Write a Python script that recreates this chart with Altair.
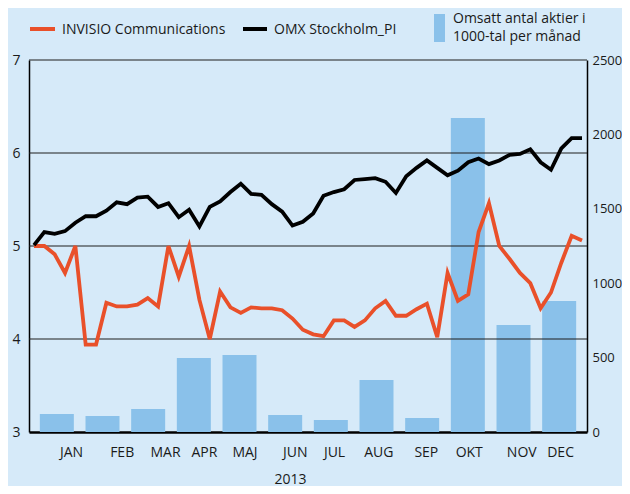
import altair as alt
import pandas as pd

# ---------------- data ----------------
months = ["JAN", "FEB", "MAR", "APR", "MAJ", "JUN", "JUL", "AUG", "SEP", "OKT", "NOV", "DEC"]
volume = [121, 108, 155, 497, 517, 114, 81, 350, 94, 2110, 719, 880]
month_label_pos = [0.81, 1.92, 2.87, 3.72, 4.61, 5.71, 6.57, 7.54, 8.58, 9.52, 10.67, 11.52]

invisio = [5.00, 5.00, 4.91, 4.71, 5.00, 3.94, 3.94, 4.39, 4.35, 4.35, 4.37, 4.44, 4.35, 5.00,
           4.67, 5.00, 4.42, 4.00, 4.51, 4.34, 4.28, 4.34, 4.33, 4.33, 4.31, 4.22, 4.10, 4.05,
           4.03, 4.20, 4.20, 4.13, 4.20, 4.33, 4.41, 4.25, 4.25, 4.32, 4.38, 4.02, 4.71, 4.41,
           4.48, 5.15, 5.46, 5.00, 4.86, 4.71, 4.60, 4.33, 4.50, 4.82, 5.11, 5.06]
omx = [5.01, 5.15, 5.13, 5.16, 5.25, 5.32, 5.32, 5.38, 5.47, 5.45, 5.52, 5.53, 5.42, 5.46,
       5.31, 5.39, 5.21, 5.42, 5.48, 5.58, 5.67, 5.56, 5.55, 5.45, 5.37, 5.22, 5.26, 5.35,
       5.54, 5.58, 5.61, 5.71, 5.72, 5.73, 5.69, 5.57, 5.75, 5.84, 5.92, 5.84, 5.76, 5.81,
       5.90, 5.94, 5.88, 5.92, 5.98, 5.99, 6.04, 5.90, 5.82, 6.05, 6.16, 6.16]

series_names = ["INVISIO Communications", "OMX Stockholm_PI"]
volume_label = ["Omsatt antal aktier i", "1000-tal per månad"]
left_ticks = [3, 4, 5, 6, 7]
grid_vals = [4, 5, 6, 7]
right_ticks = [0, 500, 1000, 1500, 2000, 2500]
year = "2013"

# ---------------- styles ----------------
BG = "#D6EAF9"
BAR = "#8AC1EA"
ORANGE = "#E9502A"
INK = "#1a1a1a"
FONT = "Open Sans"

n = len(invisio)
week_pos = [i * 12 / (n - 1) for i in range(n)]
lines_df = pd.DataFrame({
    "x": week_pos * 2,
    "value": invisio + omx,
    "series": [series_names[0]] * n + [series_names[1]] * n,
})
bars_df = pd.DataFrame({"month": months, "pos": [i + 0.5 for i in range(12)], "volume": volume})
grid_df = pd.DataFrame({"g": grid_vals})

xs = alt.Scale(domain=[0, 12], nice=False, zero=False)
ys_left = alt.Scale(domain=[3, 7], nice=False, zero=False)
ys_right = alt.Scale(domain=[0, 2500], nice=False)

label_expr = " : ".join("datum.value == %s ? '%s'" % (v, m) for v, m in zip(month_label_pos, months)) + " : ''"


def x_axis():
    return alt.Axis(
        values=month_label_pos, labelExpr=label_expr, ticks=False, grid=False,
        domain=True, domainColor="#000", domainWidth=2.5,
        labelFont=FONT, labelFontSize=14, labelColor=INK, labelPadding=13,
        title=year, titleFont=FONT, titleFontSize=14, titleFontWeight="normal", titleColor=INK,
        titleX=261, titleY=40, titleBaseline="top", titleAlign="center",
    )


bars = alt.Chart(bars_df).mark_bar(size=34, color=BAR).encode(
    x=alt.X("pos:Q", scale=xs, axis=x_axis(), title=year),
    y=alt.Y("volume:Q", scale=ys_right, axis=alt.Axis(
        orient="right", values=right_ticks, format="d", grid=False, ticks=False,
        domainColor="#000", domainWidth=1.5,
        labelFont=FONT, labelFontSize=13, labelColor=INK, labelPadding=5, title=None)),
)

rules = alt.Chart(grid_df).mark_rule(color="#1e1e1e", strokeWidth=1.2).encode(
    y=alt.Y("g:Q", scale=ys_left, axis=alt.Axis(
        orient="left", values=left_ticks, grid=False, ticks=False,
        domainColor="#000", domainWidth=1.5,
        labelFont=FONT, labelFontSize=14, labelColor=INK, labelPadding=9, title=None)),
)

lines = alt.Chart(lines_df).mark_line(strokeWidth=3.8).encode(
    x=alt.X("x:Q", scale=xs, axis=x_axis(), title=year),
    y=alt.Y("value:Q", scale=ys_left, axis=None),
    color=alt.Color("series:N", scale=alt.Scale(domain=series_names, range=[ORANGE, "#000000"]), legend=None),
)


def txt(label, x, y):
    return alt.Chart(pd.DataFrame({"label": [label]})).mark_text(
        align="left", baseline="middle", font=FONT, fontSize=14, color=INK
    ).encode(x=alt.value(x), y=alt.value(y), text="label:N")


def swatch(label, color, x1, x2, y):
    return alt.Chart(pd.DataFrame({"label": [label]})).mark_rule(color=color, strokeWidth=4).encode(
        x=alt.value(x1), x2=alt.value(x2), y=alt.value(y))


legend_layers = [
    swatch(series_names[0], ORANGE, 1, 26, -31),
    txt(series_names[0], 33, -30),
    swatch(series_names[1], "#000000", 214, 238, -31),
    txt(series_names[1], 245, -30),
    alt.Chart(pd.DataFrame({"label": [volume_label[0]]})).mark_rect(color=BAR).encode(
        x=alt.value(405), x2=alt.value(416), y=alt.value(-46), y2=alt.value(-18)),
    txt(volume_label[0], 424, -41),
    txt(volume_label[1], 424, -23),
]

chart = alt.layer(bars, rules, lines, *legend_layers).resolve_scale(y="independent").properties(
    width=558, height=372,
    padding={"left": 21, "top": 52, "right": 35, "bottom": 54},
    autosize=alt.AutoSizeParams(type="none"),
).configure(background=BG).configure_view(stroke=None)

chart.save("out.html", embed_options={"renderer": "svg", "actions": False})
